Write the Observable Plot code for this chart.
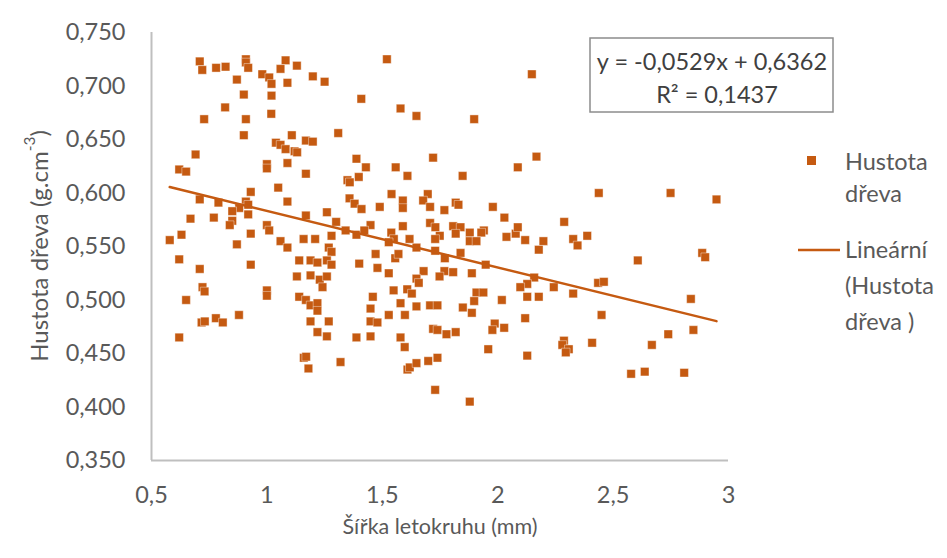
<!DOCTYPE html>
<html><head><meta charset="utf-8">
<script src="https://cdn.jsdelivr.net/npm/d3@7"></script>
<script src="https://cdn.jsdelivr.net/npm/@observablehq/plot@0.6"></script>
<style>body{margin:0;background:#fff;} #chart{width:947px;height:558px;}</style>
</head><body><div id="chart"></div>
<script>
// Šířka letokruhu (mm)
const sirka = [
0.709,0.720,0.780,0.821,0.909,0.909,0.919,0.870,0.980,1.010,1.020,1.081,1.059,1.089,0.900,1.020,0.819,0.728,0.909,1.019,0.900,1.039,1.059,1.081,0.691,0.620,0.650,1.000,1.000,1.089,
1.130,1.199,1.250,1.520,1.409,1.579,1.648,1.108,1.309,1.169,1.199,1.120,1.131,1.388,1.429,1.558,
2.148,1.898,1.720,2.168,2.087,
1.049,0.930,1.089,0.709,0.790,0.909,0.919,0.880,0.850,0.919,0.669,0.770,0.850,0.839,1.000,1.010,0.930,0.630,0.579,0.870,1.059,1.089,0.620,0.709,0.930,0.721,0.730,1.000,1.000,0.650,0.879,
1.169,1.398,1.349,1.359,1.609,1.540,1.697,1.677,1.589,1.589,1.358,1.380,1.410,1.489,1.707,1.260,1.169,1.300,1.449,1.589,1.707,1.341,1.280,1.388,1.422,1.539,1.550,1.528,1.618,1.648,1.159,1.209,1.268,1.280,1.140,1.189,1.219,1.260,1.280,1.400,1.471,1.479,1.556,1.570,1.130,1.189,1.229,1.260,1.241,1.528,1.679,1.648,1.658,1.549,1.608,1.628,1.459,1.579,1.140,1.169,1.189,1.219,1.219,1.449,1.648,1.707,1.598,1.528,
1.848,1.818,1.830,1.769,1.979,2.029,2.288,1.730,1.807,1.839,1.818,1.749,1.729,1.879,1.940,1.929,1.879,1.908,2.038,2.078,2.087,2.119,2.198,2.178,2.327,2.346,1.729,1.771,1.839,1.948,1.769,1.807,1.748,1.888,2.158,2.128,2.098,2.243,1.908,1.938,1.898,2.018,2.128,2.178,2.327,1.739,1.849,1.888,
2.438,2.749,2.948,2.388,2.607,2.886,2.899,2.435,2.460,2.837,2.450,
0.717,0.731,0.779,0.809,0.620,
1.189,1.268,1.449,1.479,1.219,1.260,1.388,1.449,1.579,1.597,1.160,1.170,1.180,1.319,1.609,1.619,1.648,1.699,
2.119,1.987,1.977,2.028,1.720,1.739,1.778,1.818,1.959,2.128,1.739,2.287,2.280,2.308,2.295,1.729,1.879,
2.409,2.739,2.848,2.668,2.578,2.637,2.808
];
// Hustota dřeva (g.cm-3)
const hustota = [
0.723,0.715,0.717,0.718,0.725,0.722,0.717,0.706,0.711,0.708,0.702,0.724,0.716,0.703,0.692,0.691,0.680,0.669,0.669,0.674,0.654,0.647,0.645,0.641,0.636,0.622,0.620,0.627,0.623,0.628,
0.719,0.709,0.704,0.725,0.688,0.679,0.672,0.654,0.656,0.649,0.648,0.639,0.638,0.632,0.624,0.624,
0.711,0.669,0.633,0.634,0.624,
0.605,0.601,0.592,0.594,0.591,0.592,0.589,0.586,0.583,0.580,0.576,0.577,0.574,0.570,0.570,0.565,0.562,0.561,0.556,0.552,0.555,0.549,0.538,0.529,0.533,0.512,0.508,0.509,0.504,0.500,0.486,
0.618,0.615,0.612,0.610,0.616,0.599,0.599,0.593,0.593,0.586,0.595,0.590,0.585,0.587,0.587,0.582,0.579,0.573,0.570,0.569,0.572,0.565,0.560,0.561,0.565,0.563,0.557,0.554,0.557,0.549,0.557,0.557,0.549,0.545,0.537,0.537,0.535,0.537,0.533,0.534,0.543,0.530,0.539,0.543,0.522,0.523,0.519,0.522,0.512,0.525,0.527,0.520,0.516,0.509,0.510,0.506,0.503,0.497,0.503,0.500,0.495,0.497,0.490,0.492,0.494,0.495,0.486,0.486,
0.616,0.591,0.589,0.584,0.587,0.577,0.573,0.568,0.569,0.568,0.562,0.560,0.557,0.563,0.565,0.563,0.555,0.555,0.559,0.562,0.568,0.556,0.555,0.547,0.557,0.551,0.546,0.539,0.544,0.533,0.527,0.526,0.522,0.525,0.521,0.515,0.512,0.512,0.507,0.507,0.499,0.500,0.503,0.503,0.506,0.495,0.493,0.488,
0.600,0.600,0.594,0.560,0.537,0.544,0.540,0.516,0.517,0.501,0.486,
0.479,0.480,0.483,0.479,0.465,
0.480,0.480,0.480,0.479,0.470,0.466,0.465,0.466,0.465,0.456,0.446,0.447,0.436,0.442,0.435,0.437,0.441,0.443,
0.483,0.478,0.472,0.474,0.473,0.472,0.468,0.470,0.454,0.448,0.446,0.462,0.458,0.454,0.451,0.416,0.405,
0.460,0.468,0.472,0.458,0.431,0.433,0.432
];
const xTicks = [0.5, 1, 1.5, 2, 2.5, 3];
const yTicks = [0.35, 0.40, 0.45, 0.50, 0.55, 0.60, 0.65, 0.70, 0.75];
const slope = -0.0529, intercept = 0.6362, rSquared = 0.1437;
const xTitle = "Šířka letokruhu (mm)";
const yTitleMain = "Hustota dřeva (g.cm", yTitleSup = "-3", yTitleEnd = ")";
const legendPoints = ["Hustota", "dřeva"];
const legendLine = ["Lineární", "(Hustota", "dřeva )"];

const comma = s => String(s).replace(".", ",");
const points = sirka.map((x, i) => ({x, y: hustota[i]}));
const xMin = d3.min(sirka), xMax = d3.max(sirka);
const trend = [xMin, xMax].map(x => ({x, y: slope * x + intercept}));

const ORANGE = "#C55A11", GRAY = "#595959", FONT = "Lato, 'Open Sans', sans-serif";
const W = 947, H = 558, ML = 151, MR = 947 - 728, MT = 32, MB = 558 - 460;

const chart = Plot.plot({
  width: W, height: H,
  marginLeft: ML, marginRight: MR, marginTop: MT, marginBottom: MB,
  style: {fontFamily: FONT, fontSize: "23.5px", color: GRAY, background: "#fff", overflow: "visible"},
  x: {domain: [0.5, 3], ticks: xTicks, tickSize: 0, tickPadding: 26, tickFormat: d => comma(d), label: null},
  y: {domain: [0.35, 0.75], ticks: yTicks, tickSize: 0, tickPadding: 26, tickFormat: d => comma(d3.format(".3f")(d)), label: null},
  marks: [
    Plot.ruleX([0.5], {stroke: "#bfbfbf", strokeWidth: 2}),
    Plot.ruleY([0.35], {stroke: "#bfbfbf", strokeWidth: 2}),
    Plot.dot(points, {x: "x", y: "y", symbol: "square", r: 4.8, fill: ORANGE, stroke: "#fff", strokeOpacity: 0.5, strokeWidth: 0.8}),
    Plot.line(trend, {x: "x", y: "y", stroke: ORANGE, strokeWidth: 2.5}),
    Plot.text([xTitle], {frameAnchor: "bottom", dy: 73, fontSize: 21.5, fill: GRAY})
  ]
});
document.getElementById("chart").append(chart);

const svg = d3.select(chart);
const txt = (x, y, s, size, anchor, fill) => svg.append("text").attr("x", x).attr("y", y)
  .attr("text-anchor", anchor).attr("fill", fill).style("font-size", size + "px")
  .style("font-family", FONT).text(s);

// y title with superscript
const yt = svg.append("text")
  .attr("transform", `translate(38,${(MT + 460) / 2}) rotate(-90)`)
  .attr("text-anchor", "middle").attr("dominant-baseline", "central")
  .attr("fill", GRAY).style("font-size", "24px").style("font-family", FONT);
yt.append("tspan").text(yTitleMain);
yt.append("tspan").attr("baseline-shift", "super").style("font-size", "15.5px").text(yTitleSup);
yt.append("tspan").text(yTitleEnd);

// equation box
svg.append("rect").attr("x", 590).attr("y", 38).attr("width", 243).attr("height", 74)
  .attr("fill", "#fff").attr("stroke", "#8c8c8c").attr("stroke-width", 1.5);
txt(712, 70, `y = ${comma(slope)}x + ${comma(intercept)}`, 23.5, "middle", "#404040");
txt(717, 103, `R² = ${comma(rSquared)}`, 23.5, "middle", "#404040");

// legend
svg.append("rect").attr("x", 807).attr("y", 156).attr("width", 9).attr("height", 9).attr("fill", ORANGE);
legendPoints.forEach((t, i) => txt(845, 170 + i * 32, t, 23.5, "start", GRAY));
svg.append("line").attr("x1", 798).attr("x2", 840).attr("y1", 250).attr("y2", 250)
  .attr("stroke", ORANGE).attr("stroke-width", 2.5);
legendLine.forEach((t, i) => txt(845, 258 + i * 36, t, 23.5, "start", GRAY));
</script>
</body></html>
